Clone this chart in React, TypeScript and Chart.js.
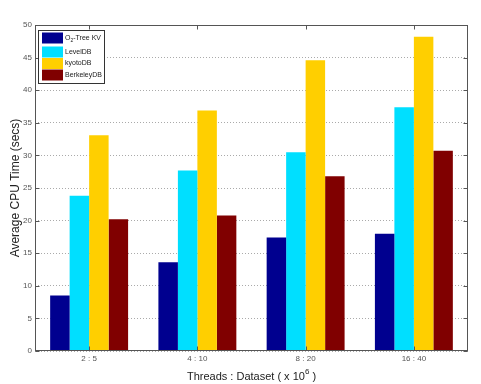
import React, { useEffect, useRef } from "react";
import { Chart, registerables } from "chart.js";

Chart.register(...registerables);

const categories = ["2 : 5", "4 : 10", "8 : 20", "16 : 40"];
const o2tree = [8.5, 13.6, 17.4, 18.0];
const leveldb = [23.8, 27.7, 30.5, 37.4];
const kyotodb = [33.1, 36.9, 44.6, 48.2];
const berkeleydb = [20.2, 20.8, 26.8, 30.7];
const yTicks = [0, 5, 10, 15, 20, 25, 30, 35, 40, 45, 50];

const seriesColors = ["#00008F", "#00DFFF", "#FFCF00", "#800000"];
const legendLabels = [["O", "2", "-Tree KV"], ["LevelDB"], ["kyotoDB"], ["BerkeleyDB"]];

const FONT = "'Liberation Sans', Arial, sans-serif";

const decorPlugin = {
  id: "decor",
  afterDraw(chart: any) {
    const ctx = chart.ctx;
    const a = chart.chartArea;
    const x = chart.scales.x;
    const y = chart.scales.y;
    ctx.save();
    ctx.strokeStyle = "#555";
    ctx.lineWidth = 1;
    const L = Math.round(a.left) + 0.5;
    const R = Math.round(a.right) - 0.5;
    const T = Math.round(a.top) + 0.5;
    const B = Math.round(a.bottom) - 0.5;
    ctx.strokeRect(L, T, R - L, B - T);
    ctx.beginPath();
    yTicks.forEach((v) => {
      const py = Math.round(y.getPixelForValue(v)) + 0.5;
      ctx.moveTo(L, py);
      ctx.lineTo(L + 4, py);
      ctx.moveTo(R, py);
      ctx.lineTo(R - 4, py);
    });
    categories.forEach((_, i) => {
      const px = Math.round(x.getPixelForValue(i)) + 0.5;
      ctx.moveTo(px, T);
      ctx.lineTo(px, T + 4);
      ctx.moveTo(px, B);
      ctx.lineTo(px, B - 4);
    });
    ctx.stroke();

    // axis titles
    ctx.fillStyle = "#222";
    ctx.textBaseline = "middle";
    const t1 = "Threads : Dataset ( x 10";
    const sup = "6";
    const t3 = " )";
    ctx.font = `11px ${FONT}`;
    const w1 = ctx.measureText(t1).width;
    const w3 = ctx.measureText(t3).width;
    ctx.font = `8px ${FONT}`;
    const w2 = ctx.measureText(sup).width;
    const total = w1 + w2 + w3;
    const cx = (a.left + a.right) / 2 - total / 2;
    const ty = 377;
    ctx.textAlign = "left";
    ctx.font = `11px ${FONT}`;
    ctx.fillText(t1, cx, ty);
    ctx.font = `8px ${FONT}`;
    ctx.fillText(sup, cx + w1, ty - 5);
    ctx.font = `11px ${FONT}`;
    ctx.fillText(t3, cx + w1 + w2, ty);

    ctx.save();
    ctx.translate(16, (a.top + a.bottom) / 2);
    ctx.rotate(-Math.PI / 2);
    ctx.textAlign = "center";
    ctx.font = `12px ${FONT}`;
    ctx.fillText("Average CPU Time (secs)", 0, 0);
    ctx.restore();

    // legend
    const lx = 38.5, ly = 30.5, lw = 66, lh = 53;
    ctx.fillStyle = "#fff";
    ctx.fillRect(lx, ly, lw, lh);
    ctx.strokeStyle = "#333";
    ctx.strokeRect(lx, ly, lw, lh);
    const rowsY = [38, 52, 63.5, 75];
    legendLabels.forEach((parts, i) => {
      ctx.fillStyle = seriesColors[i];
      ctx.fillRect(42, rowsY[i] - 5.5, 21, 11);
      ctx.fillStyle = "#222";
      ctx.textAlign = "left";
      ctx.textBaseline = "middle";
      let tx = 65;
      if (parts.length === 3) {
        ctx.font = `7px ${FONT}`;
        ctx.fillText(parts[0], tx, rowsY[i]);
        tx += ctx.measureText(parts[0]).width;
        ctx.font = `5px ${FONT}`;
        ctx.fillText(parts[1], tx, rowsY[i] + 3);
        tx += ctx.measureText(parts[1]).width;
        ctx.font = `7px ${FONT}`;
        ctx.fillText(parts[2], tx, rowsY[i]);
      } else {
        ctx.font = `7px ${FONT}`;
        ctx.fillText(parts[0], tx, rowsY[i]);
      }
    });
    ctx.restore();
  },
};

export default function App() {
  const ref = useRef<HTMLCanvasElement>(null);
  useEffect(() => {
    if (!ref.current) return;
    const mk = (label: string, data: number[], color: string) => ({
      label,
      data,
      backgroundColor: color,
      borderWidth: 0,
      categoryPercentage: 0.72,
      barPercentage: 1.0,
    });
    const chart = new Chart(ref.current, {
      type: "bar",
      data: {
        labels: categories,
        datasets: [
          mk("O2-Tree KV", o2tree, seriesColors[0]),
          mk("LevelDB", leveldb, seriesColors[1]),
          mk("kyotoDB", kyotodb, seriesColors[2]),
          mk("BerkeleyDB", berkeleydb, seriesColors[3]),
        ],
      },
      options: {
        animation: false,
        responsive: false,
        layout: { padding: { left: 0, top: 25, right: 13, bottom: 0 } },
        plugins: { legend: { display: false }, tooltip: { enabled: false } },
        scales: {
          x: {
            offset: true,
            grid: { display: false, drawTicks: false },
            border: { display: false },
            ticks: { font: { size: 8, family: FONT }, color: "#555", padding: 3 },
            afterFit: (s: any) => {
              s.height = 33;
            },
          },
          y: {
            min: 0,
            max: 50,
            afterBuildTicks: (s: any) => {
              s.ticks = yTicks.map((v) => ({ value: v }));
            },
            grid: { color: "#aaa", drawTicks: false, lineWidth: 1 },
            border: { display: false, dash: [1, 2] },
            ticks: { font: { size: 8, family: FONT }, color: "#555", padding: 3 },
            afterFit: (s: any) => {
              s.width = 35;
            },
          },
        },
      },
      plugins: [decorPlugin],
    });
    return () => chart.destroy();
  }, []);
  return (
    <div style={{ position: "absolute", left: 0, top: 0, width: 481, height: 384, background: "#fff" }}>
      <canvas ref={ref} width={481} height={384} />
    </div>
  );
}
